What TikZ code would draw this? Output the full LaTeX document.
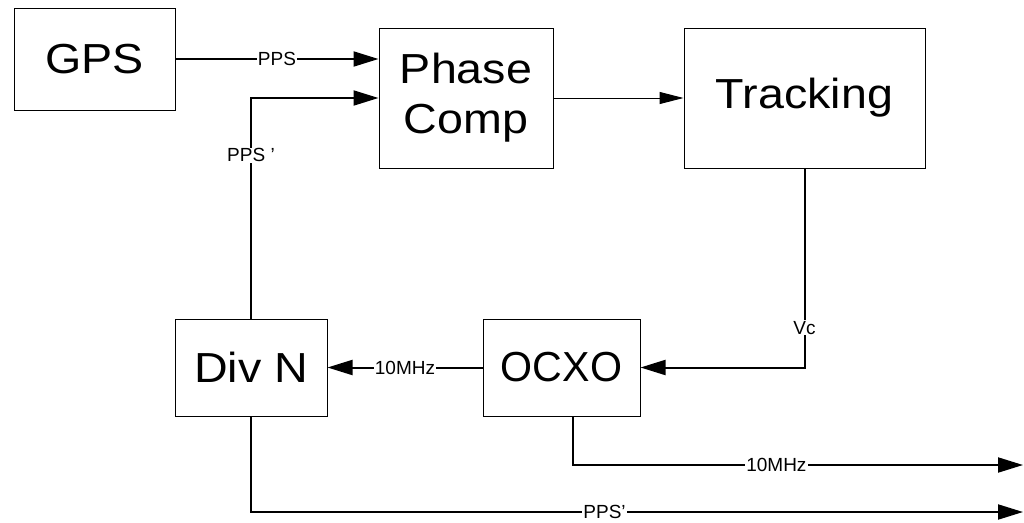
\documentclass[tikz,border=0pt]{standalone}
\usepackage{fontspec}
\setmainfont{Liberation Sans}
\newfontfamily\boxfont[FakeStretch=1.11]{Liberation Sans}
\newfontfamily\narrowboxfont[FakeStretch=0.98]{Liberation Sans}
\usetikzlibrary{arrows.meta}
\begin{document}
\begin{tikzpicture}[x=1pt,y=-1pt,
 blk/.style={draw, line width=1pt, inner sep=0pt, align=center, font=\boxfont\fontsize{42}{50}\selectfont},
 conn/.style={line width=2pt, -{Triangle[length=25pt,width=15pt]}},
 thinconn/.style={line width=1pt, -{Triangle[length=24pt,width=12pt]}},
 lbl/.style={fill=white, font=\fontsize{19}{19}\selectfont, inner sep=1pt}]
\useasboundingbox (0,0) rectangle (1024,522);
\node[blk, minimum width=161pt, minimum height=102pt] (gps) at (94.5,59) {GPS};
\node[blk, minimum width=174pt, minimum height=140pt] (phase) at (466,98) {Phase\\Comp};
\node[blk, minimum width=241pt, minimum height=140pt] (track) at (804.5,98) {Tracking};
\node[blk, minimum width=152pt, minimum height=97pt] (divn) at (251,367.5) {Div N};
\node[blk, minimum width=157pt, minimum height=97pt, font=\narrowboxfont\fontsize{42}{50}\selectfont] (ocxo) at (561.5,367.5) {OCXO};
\coordinate (out1) at (1023,465);
\coordinate (out2) at (1023,512);
\draw[conn] (gps.east) -- node[lbl]{PPS} (gps.east -| phase.west);
\draw[conn] (divn.north) -- node[lbl,pos=0.74]{PPS '} (divn.north |- phase.west) -- (phase.west);
\draw[thinconn] (phase.east) -- (track.west);
\draw[conn] (track.south) -- node[lbl,pos=0.8]{Vc} (track.south |- ocxo.east) -- (ocxo.east);
\draw[conn] (ocxo.west) -- node[lbl]{10MHz} (divn.east);
\draw[conn] ([xshift=11.5pt]ocxo.south) |- node[lbl,pos=0.726]{10MHz} (out1);
\draw[conn] (divn.south) |- node[lbl,pos=0.729]{PPS'} (out2);
\end{tikzpicture}
\end{document}
